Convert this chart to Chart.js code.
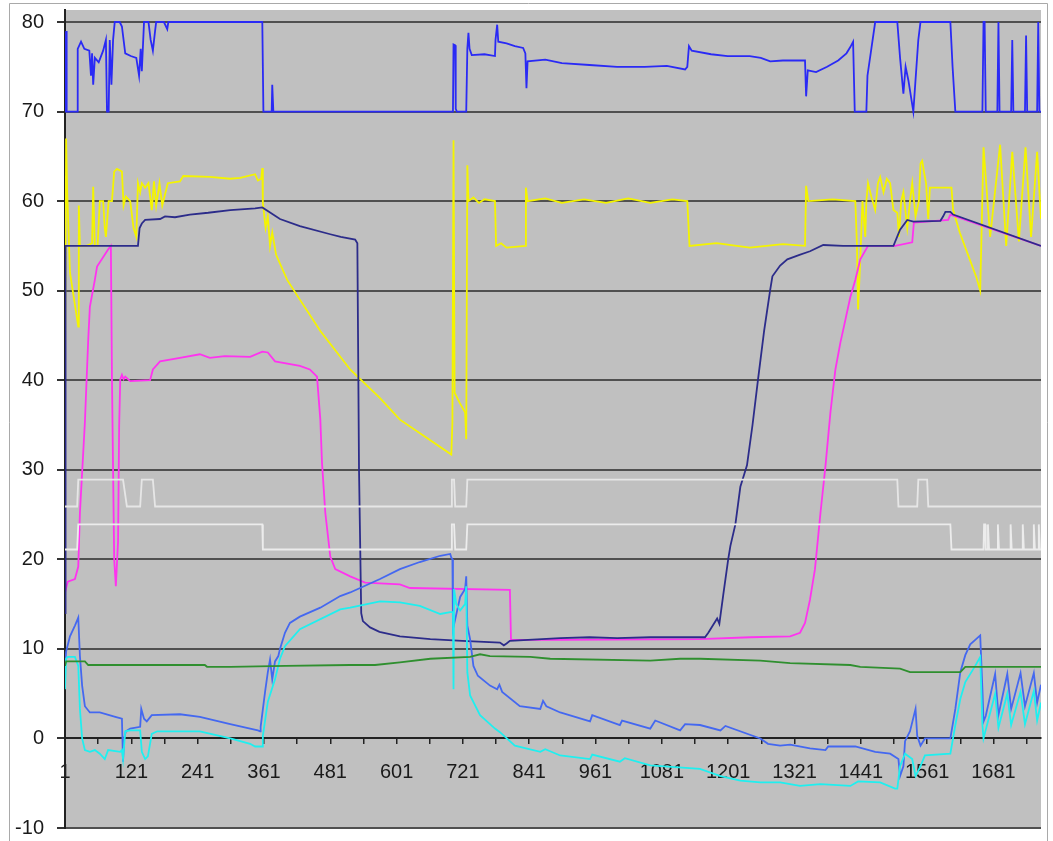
<!DOCTYPE html>
<html>
<head>
<meta charset="utf-8">
<script src="https://cdn.jsdelivr.net/npm/chart.js@4.4.1/dist/chart.umd.min.js"></script>
<style>
  html, body { margin: 0; padding: 0; background: #fff; }
  #wrap { width: 1053px; height: 841px; }
</style>
</head>
<body>
<div id="wrap"><canvas id="logChart" width="1053" height="841"></canvas></div>
<script>
// sample index where the log ends
const lastSample = 1767;

// y axis ticks
const yTicks = [-10, 0, 10, 20, 30, 40, 50, 60, 70, 80];

// [sample, value] pairs for each trace
const lightUpper = [[1,25.9],[23,25.9],[25,28.9],[104,28.9],[106,28.9],[113,25.9],[137,25.9],[140,28.9],[160,28.9],[164,25.9],
  [700,25.9],[701,28.9],[705,28.9],[707,25.9],[727,25.9],[729,28.9],[1507,28.9],[1509,25.9],[1543,25.9],[1545,28.9],
  [1561,28.9],[1563,25.9],[1767,25.9]];

const lightLower = [[1,21.1],[23,21.1],[25,23.9],[358,23.9],[359,21.1],[700,21.1],[701,23.9],[705,23.9],[707,21.1],
  [727,21.1],[729,23.9],[1603,23.9],[1605,21.1],[1663,21.1],[1664,23.9],[1666,23.9],[1667,21.1],[1670,21.1],[1671,23.9],
  [1673,21.1],[1688,21.1],[1689,23.9],[1691,21.1],[1711,21.1],[1712,23.9],[1714,21.1],[1733,21.1],[1734,23.9],[1736,21.1],
  [1753,21.1],[1754,23.9],[1756,21.1],[1762,21.1],[1763,23.9],[1765,21.1],[1767,21.1]];

const green = [[1,8.1],[3,8.6],[37,8.6],[43,8.2],[100,8.2],[254,8.2],[258,8],[300,8],[400,8.1],[517,8.2],[562,8.2],
  [607,8.5],[662,8.9],[734,9.1],[752,9.4],[770,9.2],[843,9.1],[879,8.9],[1060,8.7],[1114,8.9],[1150,8.9],[1259,8.7],
  [1313,8.4],[1422,8.2],[1440,8],[1512,7.8],[1530,7.4],[1621,7.4],[1630,8],[1767,8]];

const cyan = [[1,5.5],[3,8.9],[6,9.1],[19,9.1],[25,8.1],[28,3.3],[32,0],[37,-1.3],[46,-1.5],[55,-1.3],[64,-1.7],[73,-2.3],
  [79,-1.3],[101,-1.5],[104,-1.3],[106,-2.3],[110,0.8],[119,0.9],[137,0.9],[140,-1.5],[146,-2.3],[151,-2],[158,0.5],
  [168,0.8],[245,0.8],[300,0],[336,-0.6],[345,-0.9],[358,-0.9],[359,0.3],[368,4.1],[381,6.6],[390,8.9],[399,10.3],
  [426,12.2],[499,14.4],[517,14.6],[571,15.3],[607,15.2],[643,14.8],[680,13.9],[698,14.1],[703,14.1],[704,5.5],[705,16.7],
  [709,15],[716,14.3],[725,15],[727,17],[729,7.4],[734,4.8],[752,2.6],[779,1.1],[788,0.7],[815,-0.8],[861,-1.5],
  [870,-1.2],[897,-1.9],[951,-2.3],[955,-1.8],[1005,-2.6],[1014,-2.2],[1060,-3],[1150,-3.4],[1187,-4.2],[1223,-4.7],
  [1259,-4.9],[1295,-4.9],[1331,-5.3],[1368,-5.1],[1422,-5.3],[1436,-4.8],[1476,-4.9],[1503,-5.6],[1507,-5.6],
  [1512,-3.1],[1521,-1.7],[1534,-2.3],[1540,-4.2],[1549,-3.1],[1557,-1.9],[1603,-1.7],[1612,1.5],[1621,4.4],[1630,6.3],
  [1648,8.1],[1657,9.1],[1661,1.5],[1663,0],[1684,5],[1690,1.2],[1706,5],[1713,1.5],[1730,5.2],[1738,1.6],[1754,5.3],
  [1760,2],[1767,4]];

const cornflower = [[1,8],[3,9.7],[10,11.4],[19,12.6],[25,13.5],[28,9.2],[32,5.9],[37,3.6],[46,2.9],[64,2.9],[92,2.4],
  [104,2.2],[106,-2.6],[108,0],[111,0.8],[119,1.1],[137,1.3],[139,3.3],[144,2.2],[149,1.9],[158,2.6],[209,2.7],[245,2.4],
  [300,1.6],[336,1.1],[350,0.9],[354,0.8],[355,1.3],[363,5.2],[368,7.4],[372,8.8],[376,6.6],[381,8.6],[387,9.2],[390,10],
  [399,11.8],[408,12.9],[426,13.6],[463,14.6],[499,15.9],[517,16.3],[571,17.8],[607,18.9],[643,19.7],[680,20.4],
  [698,20.6],[700,20.2],[702,20],[703,12.2],[707,13.3],[716,15.8],[725,16.7],[727,18.1],[729,12.6],[734,11.1],[740,8.1],
  [748,7],[770,5.9],[783,5.5],[787,6],[792,5.2],[824,3.6],[861,3.3],[866,4.2],[872,3.6],[897,2.9],[951,1.9],[955,2.6],
  [1005,1.5],[1009,2],[1060,1.1],[1069,2],[1114,0.9],[1123,1.6],[1150,1.5],[1187,0.9],[1196,1.4],[1259,0],[1273,-0.6],
  [1295,-0.8],[1313,-0.7],[1349,-1.1],[1377,-1.3],[1382,-0.9],[1431,-0.9],[1467,-1.5],[1494,-1.7],[1509,-2.3],
  [1512,-4.2],[1518,-3.1],[1521,-0.3],[1530,0.8],[1540,3.3],[1543,0.3],[1549,-0.8],[1557,0],[1603,0],[1612,3.3],
  [1621,7.4],[1630,9.3],[1639,10.5],[1648,11],[1657,11.5],[1661,5.5],[1663,1.9],[1667,2.5],[1684,7.2],[1690,2.6],
  [1706,7.2],[1713,3.3],[1730,7.3],[1738,3.6],[1754,7.3],[1760,4],[1767,6]];

const navy = [[1,14],[2,55],[133,55],[136,57],[140,57.5],[146,57.9],[173,58],[182,58.3],[200,58.2],[227,58.5],[260,58.7],
  [300,59],[345,59.2],[358,59.3],[370,58.8],[390,58],[426,57.2],[481,56.3],[500,56],[526,55.7],[530,55.3],[533,30],
  [537,14],[540,13.1],[553,12.4],[570,11.9],[607,11.4],[662,11.1],[720,10.9],[788,10.7],[795,10.4],[800,10.6],[806,10.9],
  [897,11.2],[950,11.3],[1000,11.2],[1060,11.3],[1114,11.3],[1159,11.3],[1165,11.8],[1172,12.5],[1181,13.4],[1185,12.8],
  [1192,16],[1201,20],[1205,21.5],[1214,23.9],[1223,28.1],[1230,29.5],[1235,30.5],[1245,35],[1255,40.1],[1266,45.5],
  [1277,50.1],[1281,51.6],[1295,52.8],[1308,53.5],[1330,54],[1349,54.4],[1373,55.1],[1409,55],[1500,55],[1512,56.8],
  [1525,57.9],[1536,57.7],[1585,57.8],[1590,58.3],[1594,58.8],[1603,58.8],[1608,58.5],[1767,55]];

const magenta = [[1,16.3],[6,17.5],[19,17.8],[25,19.2],[28,25.2],[37,35.3],[43,44.5],[46,48.2],[55,51.2],[59,52.7],
  [79,54.6],[84,55],[86,40],[90,20],[93,17],[97,22],[99,35],[101,40.1],[104,40.6],[107,40.1],[110,40.4],[119,39.9],
  [155,40],[160,41.2],[173,42.1],[209,42.5],[245,42.9],[263,42.5],[290,42.7],[336,42.6],[358,43.2],[368,43.1],
  [381,42.1],[426,41.6],[444,41.2],[457,40.4],[463,35.6],[466,30.8],[472,25.2],[481,20.3],[490,18.9],[517,18.1],
  [544,17.4],[607,17.2],[625,16.8],[806,16.6],[808,11],[897,11],[1150,11.1],[1241,11.3],[1313,11.4],[1331,11.8],
  [1340,12.9],[1349,15.5],[1358,18.9],[1368,25.2],[1377,30.4],[1386,36.4],[1395,41.2],[1404,44.2],[1409,45.6],
  [1422,49.3],[1431,51.2],[1440,53.5],[1454,55],[1503,55],[1534,55.4],[1537,57.6],[1599,57.9],[1603,58.5],[1767,55]];

const yellow = [[1,41],[3,67],[5,61],[10,52],[20,48],[25,46],[26,59.5],[28,55],[40,55],[50,55.3],[52,61.6],[55,55],
  [60,55],[64,60],[70,60],[73,57],[75,56],[80,60],[86,60],[90,63.3],[95,63.6],[104,63.3],[107,59.5],[111,60.5],[119,60],
  [125,57],[130,56],[133,62],[137,61],[140,62],[146,61.5],[152,62],[158,59],[162,62.2],[166,59.5],[172,62],[177,59.5],
  [187,62],[209,62.2],[215,62.8],[263,62.7],[300,62.5],[318,62.6],[345,63],[350,62.3],[356,62.5],[358,63.7],[359,59.8],
  [364,57],[368,58.3],[372,55],[376,56.5],[383,54],[403,51.2],[426,49],[463,45.5],[517,41.2],[571,38],[607,35.6],
  [662,33.3],[700,31.7],[702,35.3],[704,66.8],[706,38.6],[715,37.5],[725,36.4],[727,33.4],[729,64],[731,60],[740,60.4],
  [750,59.8],[760,60.2],[779,60],[781,55],[790,55.3],[800,54.8],[834,55],[835,61.5],[838,60],[870,60.3],[900,59.8],
  [940,60.2],[980,59.8],[1020,60.3],[1060,59.8],[1100,60.2],[1127,60],[1131,55],[1180,55.3],[1240,54.8],[1300,55.2],
  [1340,55],[1342,61.7],[1346,60],[1390,60.2],[1431,60],[1434,55],[1436,47.9],[1439,52],[1444,60],[1449,56],[1451,60],
  [1454,62],[1460,60.5],[1467,59],[1472,62],[1476,62.7],[1482,61],[1488,62.5],[1494,62],[1500,59],[1507,58.7],
  [1510,56],[1514,60],[1518,61],[1525,57],[1530,60],[1534,62],[1540,58.3],[1546,60],[1549,64.2],[1552,64.5],[1556,63],
  [1559,62],[1563,58],[1566,61.5],[1605,61.5],[1608,59],[1620,56.5],[1635,54],[1650,51.5],[1657,50],[1663,66],
  [1675,56],[1693,66.3],[1704,55],[1715,65.5],[1727,55.5],[1739,66],[1749,56],[1760,65.5],[1767,58]];

const blue = [[1,70],[2,78],[3,79],[4,70],[23,70],[24,77],[30,77.8],[36,77],[45,76.8],[48,74],[50,76.5],[52,73],[55,76],
  [62,75.5],[70,76.8],[75,78],[77,70],[80,70],[82,78],[85,73],[88,78],[91,80],[100,80],[104,79.5],[110,76.5],[120,76.2],
  [130,76],[135,74],[138,77],[140,74.5],[144,80],[152,80],[156,78],[160,76.8],[164,79],[166,80],[180,80],[186,79.2],
  [188,80],[358,80],[360,70],[375,70],[376,73],[378,70],[703,70],[704,77.5],[707,77.4],[708,70.3],[710,70],[727,70],
  [729,77],[731,78.8],[733,77],[737,76.3],[760,76.4],[779,76.2],[780,78],[783,79.7],[785,77.8],[800,77.6],[815,77.3],
  [830,77.1],[834,76.5],[836,72.6],[838,75.6],[870,75.8],[900,75.4],[950,75.2],[1000,75],[1050,75],[1090,75.1],
  [1123,74.7],[1127,75],[1130,77.3],[1135,76.8],[1170,76.4],[1200,76.2],[1240,76.2],[1260,76],[1277,75.6],[1300,75.7],
  [1340,75.7],[1342,71.7],[1345,74.6],[1360,74.4],[1380,75],[1400,75.7],[1415,76.5],[1422,77.2],[1427,77.8],[1430,70],
  [1451,70],[1453,74],[1460,77],[1467,80],[1507,80],[1512,76],[1518,72],[1522,75],[1527,73.5],[1536,70],[1545,78],
  [1549,80],[1603,80],[1607,75],[1612,70],[1661,70],[1663,80],[1665,80],[1667,70],[1688,70],[1690,80],[1692,70],
  [1713,70],[1715,78],[1717,70],[1738,70],[1740,78.5],[1742,70],[1760,70],[1762,80],[1764,70],[1767,70]];

function toPoints(pairs) {
  return pairs.map(([x, y]) => ({ x: x, y: y }));
}

function trace(pairs, color) {
  return {
    data: toPoints(pairs),
    borderColor: color,
    borderWidth: 1.8,
    pointRadius: 0,
    tension: 0,
    fill: false
  };
}

// silver plot area and the outer frame
const plotBackground = {
  id: 'plotBackground',
  beforeDraw(chart) {
    const { ctx, chartArea } = chart;
    ctx.save();
    ctx.fillStyle = '#fff';
    ctx.fillRect(0, 0, chart.width, chart.height);
    ctx.fillStyle = '#c0c0c0';
    ctx.fillRect(chartArea.left, chartArea.top, chartArea.right - chartArea.left, chartArea.bottom - chartArea.top);
    ctx.strokeStyle = '#a9a9a9';
    ctx.lineWidth = 1;
    ctx.beginPath();
    ctx.moveTo(9.5, 841);
    ctx.lineTo(9.5, 3.5);
    ctx.lineTo(1047.5, 3.5);
    ctx.lineTo(1047.5, 841);
    ctx.stroke();
    ctx.restore();
  }
};

function drawChart() {
  const ctx = document.getElementById('logChart');

  new Chart(ctx, {
    type: 'line',
    data: {
      datasets: [
        trace(lightUpper, '#e6e6e6'),
        trace(lightLower, '#ececec'),
        trace(green, '#2f8f2f'),
        trace(cyan, '#1fefef'),
        trace(cornflower, '#4468f0'),
        trace(navy, '#2c2c8a'),
        trace(magenta, '#ff33f0'),
        trace(yellow, '#f4f400'),
        trace(blue, '#2a2af5')
      ]
    },
    options: {
      responsive: false,
      animation: false,
      devicePixelRatio: 1,
      layout: { padding: { left: 0, top: 10, right: 12, bottom: 13 } },
      plugins: {
        legend: { display: false },
        tooltip: { enabled: false }
      },
      scales: {
        x: {
          type: 'linear',
          position: { y: 0 },
          min: 1,
          max: lastSample,
          afterBuildTicks(scale) {
            const ticks = [];
            for (let v = 1; v <= lastSample; v += 60) ticks.push({ value: v });
            scale.ticks = ticks;
          },
          grid: { drawOnChartArea: false, drawTicks: true, tickLength: 5, tickColor: '#222', lineWidth: 1.5 },
          border: { display: true, color: '#222', width: 2 },
          ticks: {
            autoSkip: false,
            maxRotation: 0,
            padding: 17,
            color: '#1a1a1a',
            font: { family: 'Liberation Sans, Arial, sans-serif', size: 20 },
            callback: (v) => ((v - 1) % 120 === 0 ? String(v) : '')
          }
        },
        y: {
          min: -10,
          max: 81.34,
          afterBuildTicks(scale) {
            scale.ticks = yTicks.map(v => ({ value: v }));
          },
          afterFit(scale) {
            // the end labels may overhang; keep the plot edges fixed
            scale.width = 65;
            scale.paddingTop = 0;
            scale.paddingBottom = 0;
          },
          grid: { color: '#505050', lineWidth: 2, tickLength: 8, tickColor: '#333' },
          border: { display: true, color: '#222', width: 2 },
          ticks: {
            padding: 13,
            color: '#1a1a1a',
            font: { family: 'Liberation Sans, Arial, sans-serif', size: 20 }
          }
        }
      }
    },
    plugins: [plotBackground]
  });
}

drawChart();
</script>
</body>
</html>
